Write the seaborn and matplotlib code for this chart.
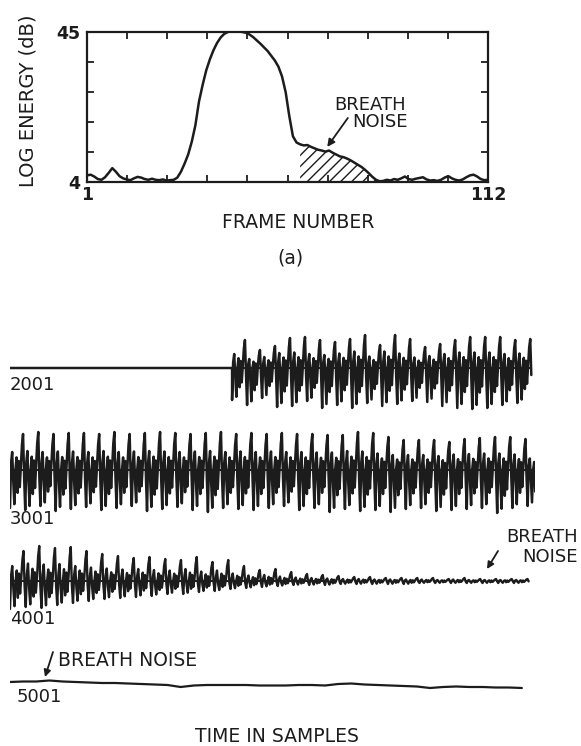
import numpy as np
import pandas as pd
import matplotlib
matplotlib.use("Agg")
import matplotlib.pyplot as plt
import seaborn as sns

sns.set_theme(style="white")
plt.rcParams["font.family"] = ["DejaVu Sans"]
plt.rcParams["hatch.linewidth"] = 1.0

INK = "#1c1c1c"
W, H = 581, 746

# ---------------- (a) log energy per frame ----------------
frames = np.arange(1, 113)
log_energy = [
    5.8, 6.0, 5.5, 4.8, 4.6, 5.3, 6.5, 7.8, 6.8, 5.6,
    5.0, 4.7, 4.5, 5.0, 5.4, 5.2, 4.8, 4.6, 4.9, 4.6,
    4.5, 4.7, 4.4, 4.5, 4.6,
    5.2, 6.8, 9.0, 11.5, 15.0, 19.5, 26.0, 30.5, 34.5, 37.5,
    40.0, 42.0, 43.5, 44.5, 45.0,
    45.3, 45.3, 45.2, 45.0, 44.8,
    44.3, 43.6, 42.7, 41.8, 40.8, 39.8, 38.5, 37.2, 35.5, 32.8,
    28.5, 22.0, 16.5,
    14.8, 14.3, 14.0, 14.1, 13.6, 13.2, 12.8, 12.6, 12.3, 12.6,
    12.0, 11.5, 11.0, 10.8, 10.4, 9.9, 9.3, 8.7, 8.1, 7.3,
    6.4, 5.4, 4.6, 4.2,
    4.3, 4.6, 4.4, 4.8, 4.6, 5.0, 5.5, 4.8, 4.6, 4.9,
    5.1, 5.3, 4.7, 4.4, 4.5, 4.3, 4.6, 5.2, 5.6, 5.0,
    4.6, 4.4, 4.7, 5.3, 5.8, 6.0, 5.5, 4.8, 4.5, 4.6,
]
breath_frames = (60, 82)          # hatched breath-noise region
energy_ticks = ["4", "", "", "", "", "45"]
frame_ticks = ["1"] + [""] * 9 + ["112"]

# ---------------- (b) waveform rows ----------------
row_labels = ["2001", "3001", "4001", "5001"]
# one pitch period of the voiced waveform (normalised)
pulse = [-1.0, 0.2, 0.5, -0.3, -0.9, 0.0, 0.35, -0.6, 0.25, -0.45,
         0.1, 0.7, 1.0, -0.2]

row1_onset = 423
row1_period = 28.6
row1_up = [28, 18, 22, 30, 31, 28, 26, 29, 33, 23,
           33, 29, 21, 24, 28, 31, 31, 31, 28, 29]
row1_down = [32, 37, 30, 39, 38, 33, 40, 37, 40, 35,
             38, 36, 33, 34, 38, 40, 41, 40, 37, 35]

row2_period = 29.0
row2_up = [36, 38, 36, 37, 37, 36, 38, 36, 37, 38,
           37, 36, 37, 38, 36, 37, 36, 37, 36, 36,
           35, 35, 38, 37, 33, 30, 30, 30, 28, 31,
           32, 33, 33, 31, 23]
row2_down = [38, 40, 36, 41, 39, 37, 40, 38, 36, 41,
             39, 37, 40, 42, 38, 39, 40, 38, 36, 40,
             38, 42, 39, 41, 40, 42, 39, 38, 41, 40,
             39, 38, 43, 38, 36]

row3_period = 30.0
row3_up = [30, 35, 33, 34, 30, 27, 25, 23, 24, 22,
           21, 24, 19, 21, 15, 11, 12, 9, 7, 6,
           5, 4, 4, 3, 3, 3, 3, 2, 3, 2,
           2, 2, 2]
row3_down = [28, 26, 27, 24, 22, 20, 18, 17, 16, 15,
             13, 13, 11, 10, 8, 7, 6, 5, 4, 4,
             4, 3, 3, 3, 3, 3, 2, 2, 2, 2,
             2, 2, 2]

row4_step = 25
row4_noise = [0, 0.5, 0.5, 1.5, 0.5, 0, -0.5, -1, -1, -1.5,
              -2, -2.5, -3, -5, -3.5, -3, -3, -3, -3, -3.5,
              -3.5, -3.5, -3, -3, -3.5, -2, -1.5, -2.5, -3, -3.5,
              -4, -4.5, -6, -5, -4.5, -5, -5, -5.5, -5.5, -6]


def px(x, y):
    """pixel position (from top-left) -> figure fraction"""
    return x / W, 1 - y / H


def voiced(onset, period, up, down):
    xs, ys = [], []
    n = len(pulse)
    for p, (u, d) in enumerate(zip(up, down)):
        for k, v in enumerate(pulse):
            xs.append(onset + (p + k / n) * period)
            ys.append(v * u if v > 0 else v * d)
    return xs, ys


fig = plt.figure(figsize=(W / 100, H / 100), dpi=100)
fig.patch.set_facecolor("white")

# ---------------- top panel ----------------
ax = fig.add_axes([87 / W, 1 - 182 / H, 401 / W, 150 / H])
df_e = pd.DataFrame({"frame": frames, "energy": log_energy})
sns.lineplot(data=df_e, x="frame", y="energy", ax=ax, color=INK, lw=1.8,
             estimator=None)
sel = df_e[(df_e.frame >= breath_frames[0]) & (df_e.frame <= breath_frames[1])]
ax.fill_between(sel.frame, 4, sel.energy, facecolor="none", edgecolor=INK,
                hatch="///", linewidth=0)
ax.set_xlim(1, 112)
ax.set_ylim(4, 45)
ax.set_xticks(np.linspace(1, 112, 11))
ax.set_xticklabels(frame_ticks)
ax.set_yticks(np.linspace(4, 45, 6))
ax.set_yticklabels(energy_ticks)
ax.tick_params(direction="in", length=5, width=1.3, color=INK,
               bottom=True, top=True, left=True, right=True,
               labelsize=12.5, labelcolor=INK)
ax.tick_params(axis="x", pad=3)
ax.tick_params(axis="y", pad=5)
for t in ax.get_xticklabels() + ax.get_yticklabels():
    t.set_fontweight("bold")
for s in ax.spines.values():
    s.set_visible(True)
    s.set_color(INK)
    s.set_linewidth(1.6)
ax.set_xlabel("")
ax.set_ylabel("")
ax.annotate("", xy=(67.5, 13.6), xytext=(73.2, 21.5),
            arrowprops=dict(arrowstyle="-|>", color=INK, lw=1.3,
                            mutation_scale=11, shrinkA=0, shrinkB=0))
fig.text(*px(406, 105), "BREATH", ha="right", va="center", fontsize=13, color=INK)
fig.text(*px(408, 122), "NOISE", ha="right", va="center", fontsize=13, color=INK)

fig.text(*px(28, 101), "LOG ENERGY (dB)", rotation=90, ha="center",
         va="center", fontsize=14, color=INK)
fig.text(*px(298, 222), "FRAME NUMBER", ha="center", va="center",
         fontsize=13.5, color=INK)
fig.text(*px(290, 258), "(a)", ha="center", va="center", fontsize=13.5,
         color=INK)

# ---------------- waveform rows ----------------
baselines = [368, 470, 581, 682]
label_pos = [(10, 385), (10, 519), (10, 619), (17, 697)]

x1, y1 = voiced(row1_onset, row1_period, row1_up, row1_down)
x2, y2 = voiced(0, row2_period, row2_up, row2_down)
x3, y3 = voiced(0, row3_period, row3_up, row3_down)
x4 = list(np.arange(len(row4_noise)) * row4_step)
rows = [([0, row1_onset] + x1, [0, 0] + y1), (x2, y2), (x3, y3),
        (x4, row4_noise)]
widths = [1.8, 1.8, 1.7, 1.6]
zero_spans = [(row1_onset, x1[-1]), (0, x2[-1]), (0, 600), None]

for (xs, ys), base, lab, lp, lw, zs in zip(rows, baselines, row_labels,
                                           label_pos, widths, zero_spans):
    a = fig.add_axes([10 / W, 1 - (base + 50) / H, 525 / W, 100 / H])
    d = pd.DataFrame({"sample": xs, "amp": ys})
    sns.lineplot(data=d, x="sample", y="amp", ax=a, color=INK, lw=lw,
                 estimator=None, sort=False)
    if zs is not None:
        a.plot(zs, [0, 0], color=INK, lw=1.4)
    a.set_xlim(0, 1000)
    a.set_ylim(-50, 50)
    a.axis("off")
    fig.text(*px(*lp), lab, ha="left", va="center", fontsize=13, color=INK)

fig.text(*px(578, 537), "BREATH", ha="right", va="center", fontsize=13, color=INK)
fig.text(*px(578, 557), "NOISE", ha="right", va="center", fontsize=13, color=INK)
ax.annotate("", xy=px(487, 569), xytext=px(498, 551),
            xycoords="figure fraction", textcoords="figure fraction",
            arrowprops=dict(arrowstyle="-|>", color=INK, lw=1.3,
                            mutation_scale=10, shrinkA=0, shrinkB=0))

fig.text(*px(58, 660), "BREATH NOISE", ha="left", va="center", fontsize=13.5,
         color=INK)
ax.annotate("", xy=px(45, 677), xytext=px(53, 652),
            xycoords="figure fraction", textcoords="figure fraction",
            arrowprops=dict(arrowstyle="-|>", color=INK, lw=1.3,
                            mutation_scale=10, shrinkA=0, shrinkB=0))

fig.text(*px(277, 737), "TIME IN SAMPLES", ha="center", va="center",
         fontsize=13.5, color=INK)

fig.savefig("out.png", dpi=100, facecolor="white")
